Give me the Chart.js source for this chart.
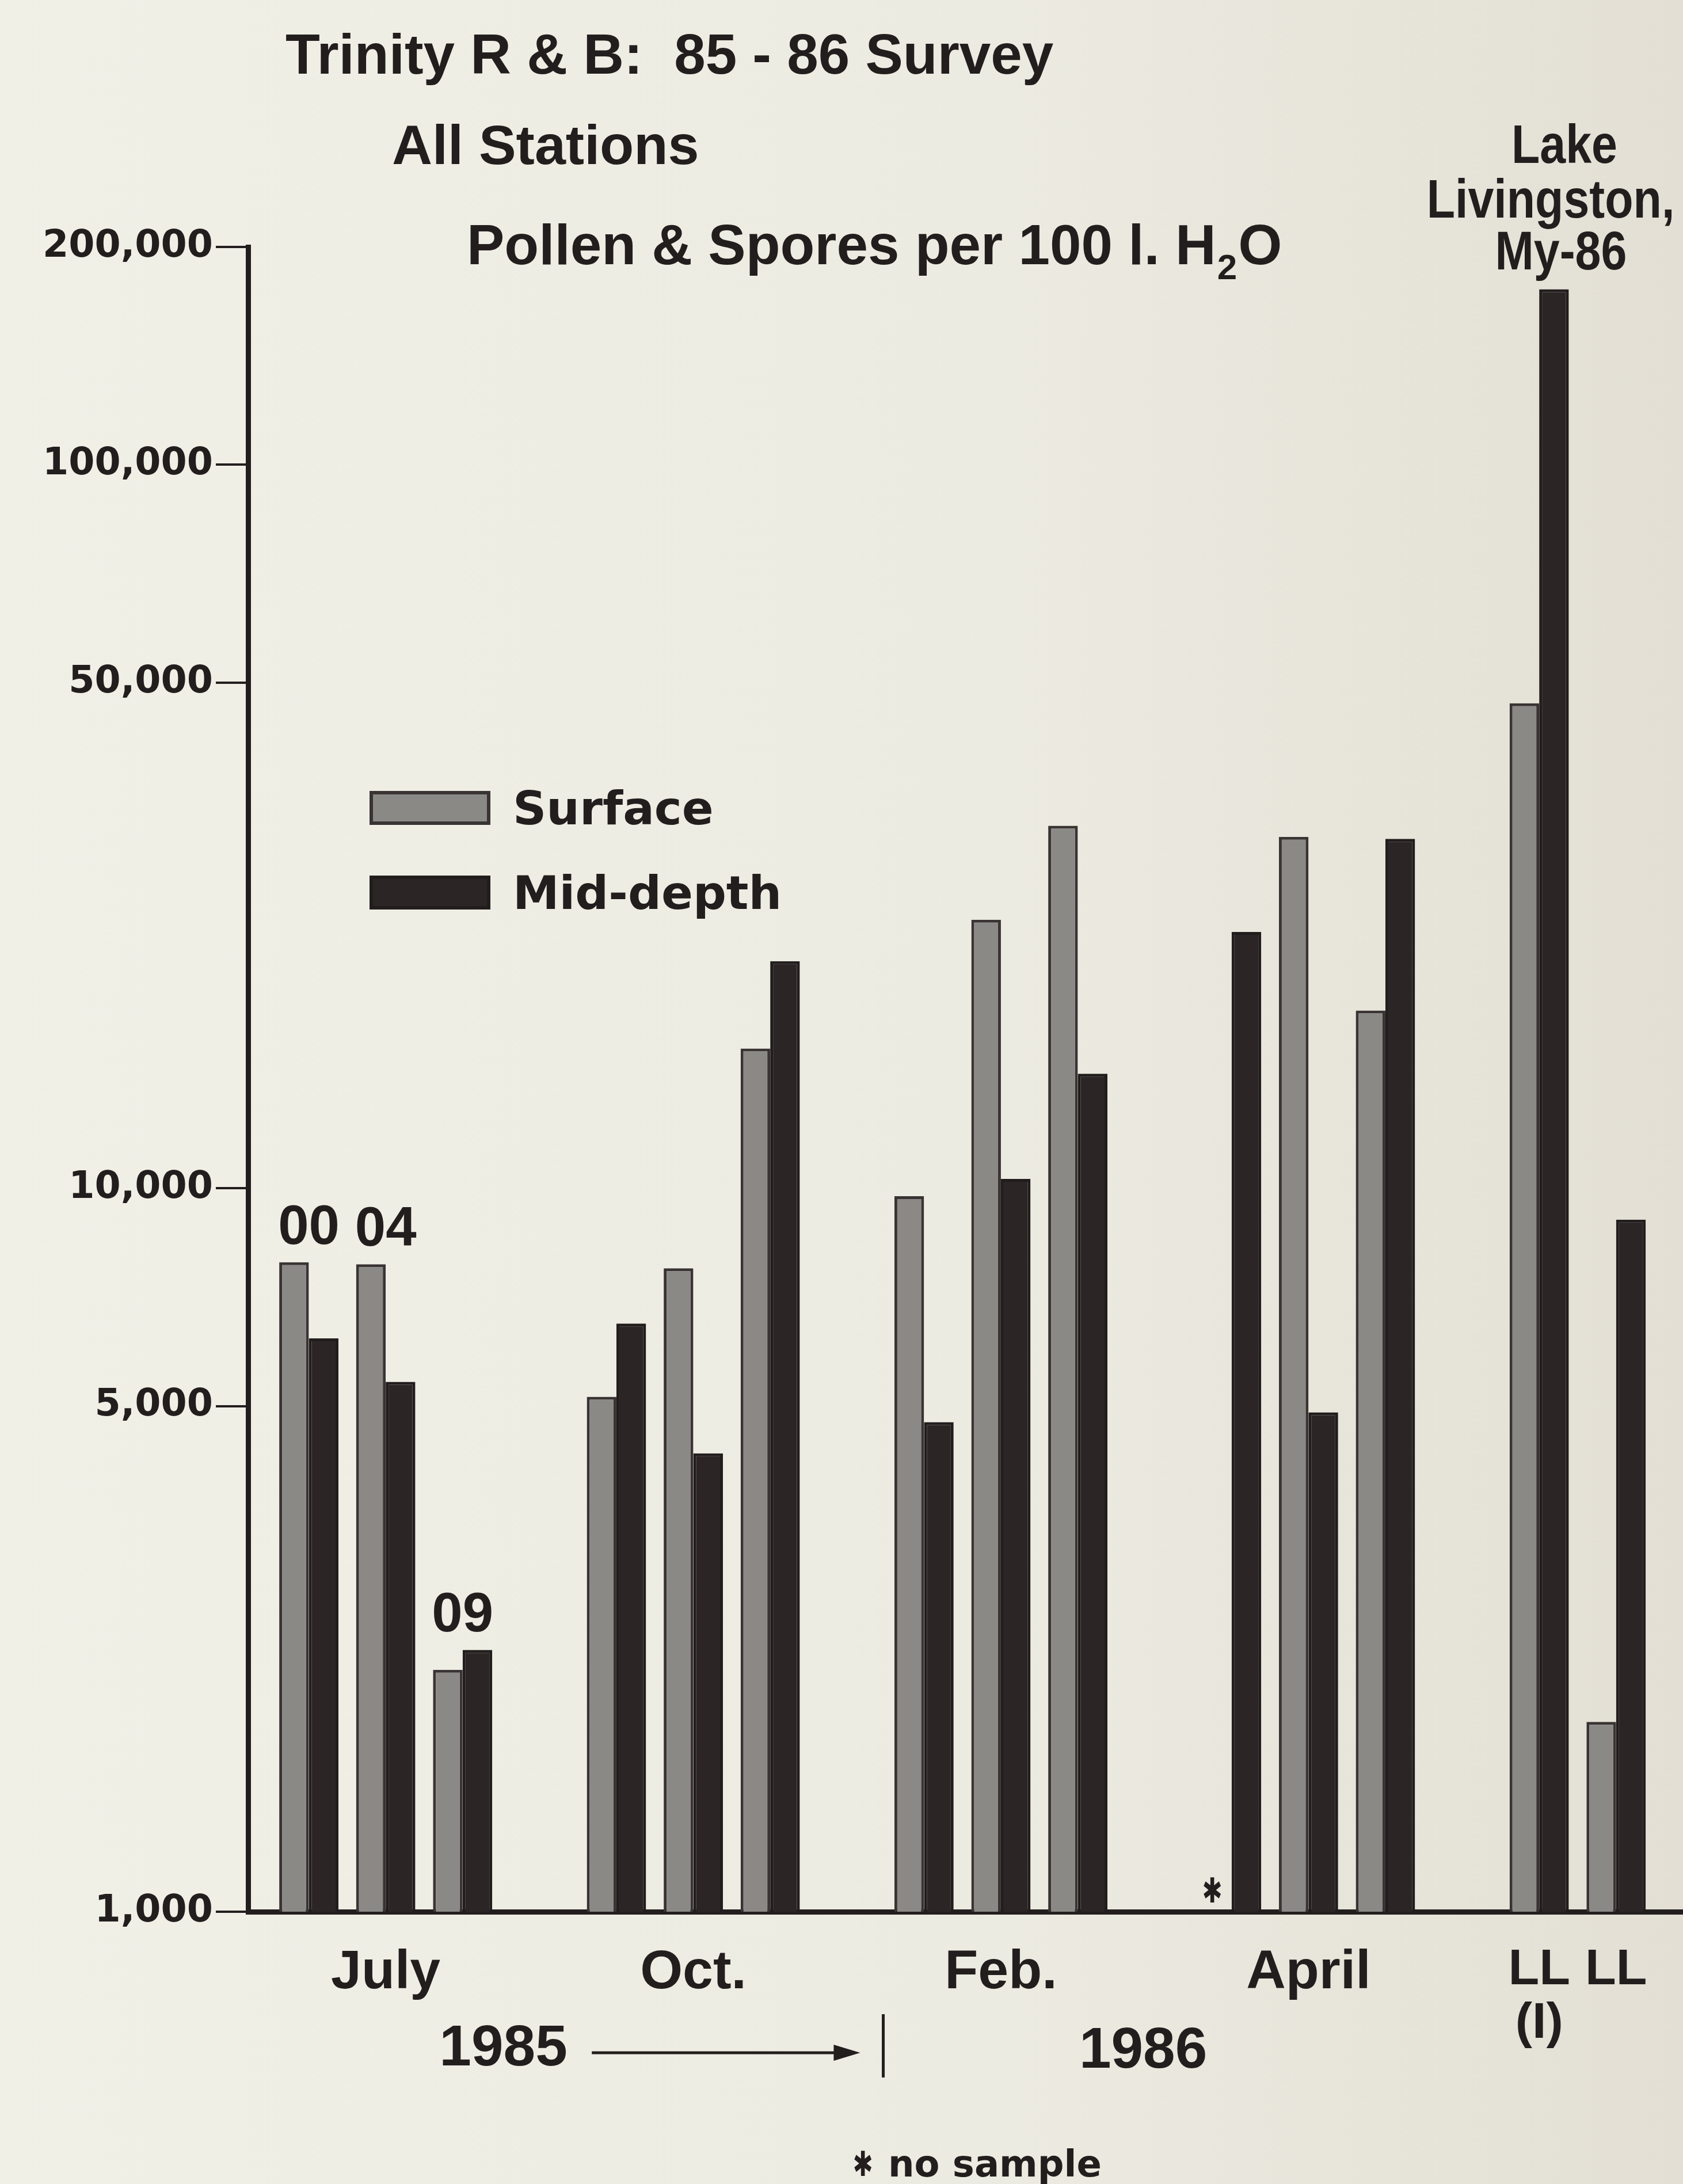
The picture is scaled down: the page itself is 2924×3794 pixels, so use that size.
<!DOCTYPE html>
<html>
<head>
<meta charset="utf-8">
<title>Trinity R &amp; B: 85 - 86 Survey</title>
<script src="https://cdn.jsdelivr.net/npm/chart.js@4.4.1/dist/chart.umd.min.js"></script>
<style>
  html, body { margin: 0; padding: 0; background: #efeee4; }
  canvas { display: block; }
</style>
</head>
<body>
<canvas id="chart" width="2924" height="3794"></canvas>
<script>
// ---- Data: pollen & spores per 100 l of water, one entry per sampling station ----
const stationLabels = ['00', '04', '09', '', '', '', '', '', '', '', '', '', '', ''];
const monthLabels = ['July', 'Oct.', 'Feb.', 'April', ['LL', '(I)'], 'LL'];
const stationsPerMonth = [3, 3, 3, 3, 1, 1];
const surface  = [7900, 7850, 2160, 5150, 7750, 15600, 9750, 23500, 31700, null, 30600, 17600, 46800, 1830];
const midDepth = [6200, 5400, 2300, 6500, 4300, 20600, 4750, 10300, 14400, 22600, 4900, 30400, 174800, 9050];
const yTickValues = [1000, 5000, 10000, 50000, 100000, 200000];

// ---- Layout helpers ----
const blankSlotsAfterMonth = [1, 1, 1, 1, 0];
const slots = [];
const monthCentres = [];
(function buildSlots() {
  let s = 0;
  stationsPerMonth.forEach((n, b) => {
    const first = s;
    for (let k = 0; k < n; k++) slots.push(s++);
    monthCentres.push((first + s - 1) / 2);
    s += blankSlotsAfterMonth[b] || 0;
  });
})();

const ink = '#231e1e';
const surfaceFill = '#8a8986';
const surfaceEdge = '#393333';
const midFill = '#2b2525';
const midEdge = '#221d1d';
const helv = "'Liberation Sans', Arial, Helvetica, sans-serif";
const wide = "'DejaVu Sans', Verdana, sans-serif";

function put(ctx, str, x, y, font, align, stretch, baseline) {
  ctx.save();
  ctx.font = font;
  ctx.fillStyle = ink;
  ctx.textAlign = align || 'left';
  ctx.textBaseline = baseline || 'alphabetic';
  ctx.translate(x, y);
  if (stretch) ctx.scale(stretch, 1);
  ctx.fillText(str, 0, 0);
  ctx.restore();
}

const paper = {
  id: 'paper',
  beforeDraw(chart) {
    const { ctx, width, height } = chart;
    const g = ctx.createLinearGradient(0, 0, width, 0);
    g.addColorStop(0, '#f1f0e7');
    g.addColorStop(0.6, '#ecebe1');
    g.addColorStop(1, '#e3dfd4');
    ctx.save();
    ctx.fillStyle = g;
    ctx.fillRect(0, 0, width, height);
    ctx.restore();
  }
};

const annotations = {
  id: 'annotations',
  afterDraw(chart) {
    const { ctx, scales } = chart;
    const xs = scales.x;
    const area = chart.chartArea;

    // Headings
    put(ctx, 'Trinity R & B:  85 - 86 Survey', 496, 128, 'bold 98px ' + helv);
    put(ctx, 'All Stations', 681, 285, 'bold 97px ' + helv);

    // Unit line with subscript
    ctx.save();
    ctx.font = 'bold 98px ' + helv;
    let px = 811;
    const base = 459;
    const main = 'Pollen & Spores per 100 l. H';
    put(ctx, main, px, base, 'bold 98px ' + helv);
    px += ctx.measureText(main).width;
    put(ctx, '2', px + 2, base + 26, 'bold 62px ' + helv);
    ctx.font = 'bold 62px ' + helv;
    px += ctx.measureText('2').width + 4;
    put(ctx, 'O', px, base, 'bold 98px ' + helv);
    ctx.restore();

    // Lake Livingston caption (condensed type)
    put(ctx, 'Lake', 2718, 283, 'bold 95px ' + helv, 'center', 0.85);
    put(ctx, 'Livingston,', 2694, 378, 'bold 95px ' + helv, 'center', 0.85);
    put(ctx, 'My-86', 2712, 468, 'bold 95px ' + helv, 'center', 0.85);

    // Legend built from the datasets
    const legendRows = [1403, 1550];
    chart.data.datasets.forEach((ds, i) => {
      const cy = legendRows[i];
      ctx.save();
      ctx.fillStyle = ds.backgroundColor;
      ctx.strokeStyle = ds.borderColor;
      ctx.lineWidth = 6;
      ctx.fillRect(645, cy - 26, 204, 53);
      ctx.strokeRect(645, cy - 26, 204, 53);
      ctx.restore();
      put(ctx, ds.label, 891, cy + 29, 'bold 81px ' + wide);
    });

    // Station numbers above their bar pairs
    const m0 = chart.getDatasetMeta(0).data;
    const m1 = chart.getDatasetMeta(1).data;
    stationLabels.forEach((lab, i) => {
      if (!lab) return;
      const a = m0[i], b = m1[i];
      const left = a.x - a.width / 2;
      const right = b.x + b.width / 2;
      const tops = [surface[i], midDepth[i]].filter(v => v != null).map(v => scales.y.getPixelForValue(v));
      put(ctx, lab, (left + right) / 2, Math.min(...tops) - 32, 'bold 96px ' + helv, 'center');
    });

    // "no sample" markers where a surface value is missing
    surface.forEach((v, i) => {
      if (v != null) return;
      const b = m1[i];
      put(ctx, '\u2731', b.x - b.width - 8, area.bottom - 32, 'bold 60px ' + wide, 'center', 0.7, 'middle');
    });

    // Year row under the month labels
    const yearFont = 'bold 100px ' + helv;
    put(ctx, '1985', xs.getPixelForValue(2.53), 3588, yearFont, 'center');
    put(ctx, '1986', xs.getPixelForValue(10.85), 3592, yearFont, 'center');
    const ax0 = xs.getPixelForValue(3.68), ax1 = xs.getPixelForValue(7.17), ay = 3566;
    ctx.save();
    ctx.strokeStyle = ink;
    ctx.fillStyle = ink;
    ctx.lineWidth = 5;
    ctx.beginPath();
    ctx.moveTo(ax0, ay);
    ctx.lineTo(ax1 - 40, ay);
    ctx.stroke();
    ctx.beginPath();
    ctx.moveTo(ax1, ay);
    ctx.lineTo(ax1 - 46, ay - 14);
    ctx.lineTo(ax1 - 46, ay + 14);
    ctx.closePath();
    ctx.fill();
    const dx = xs.getPixelForValue(7.47);
    ctx.beginPath();
    ctx.moveTo(dx, 3499);
    ctx.lineTo(dx, 3609);
    ctx.stroke();
    ctx.restore();

    // Footnote
    put(ctx, '\u2731', 1499, 3764, 'bold 60px ' + wide, 'center', 0.7, 'middle');
    put(ctx, 'no sample', 1543, 3781, 'bold 64px ' + wide);
  }
};

new Chart(document.getElementById('chart'), {
  type: 'bar',
  data: {
    datasets: [
      {
        label: 'Surface',
        data: surface.map((v, i) => ({ x: slots[i], y: v })),
        backgroundColor: surfaceFill,
        borderColor: surfaceEdge,
        borderWidth: 5,
        categoryPercentage: 0.77,
        barPercentage: 1
      },
      {
        label: 'Mid-depth',
        data: midDepth.map((v, i) => ({ x: slots[i], y: v })),
        backgroundColor: midFill,
        borderColor: midEdge,
        borderWidth: 5,
        categoryPercentage: 0.77,
        barPercentage: 1
      }
    ]
  },
  options: {
    responsive: false,
    animation: false,
    devicePixelRatio: 1,
    events: [],
    layout: { padding: { top: 429, left: 0, right: 0, bottom: 0 } },
    plugins: { legend: { display: false }, tooltip: { enabled: false }, title: { display: false } },
    scales: {
      x: {
        type: 'linear',
        min: -0.79,
        max: 17.87,
        offset: false,
        grid: { display: false, drawTicks: false },
        border: { display: true, color: ink, width: 9 },
        afterBuildTicks: s => { s.ticks = monthCentres.map(v => ({ value: v })); },
        afterFit: s => { s.height = 473; },
        ticks: {
          autoSkip: false,
          maxRotation: 0,
          padding: 56,
          color: ink,
          font: c => (c.index >= 4
            ? { family: helv, weight: 'bold', size: 88, lineHeight: 1.05 }
            : { family: helv, weight: 'bold', size: 95, lineHeight: 1.07 }),
          callback: (v, i) => monthLabels[i]
        }
      },
      y: {
        type: 'logarithmic',
        min: 1000,
        max: 200000,
        afterBuildTicks: s => { s.ticks = yTickValues.map(v => ({ value: v })); },
        afterFit: s => { s.width = 431; },
        grid: { display: true, drawOnChartArea: false, drawTicks: true, tickLength: 56, lineWidth: 4, color: ink },
        border: { display: true, color: ink, width: 9 },
        ticks: {
          autoSkip: false,
          padding: 5,
          color: ink,
          font: { family: wide, weight: 'bold', size: 65 },
          callback: v => Number(v).toLocaleString('en-US')
        }
      }
    }
  },
  plugins: [paper, annotations]
});
</script>
</body>
</html>
